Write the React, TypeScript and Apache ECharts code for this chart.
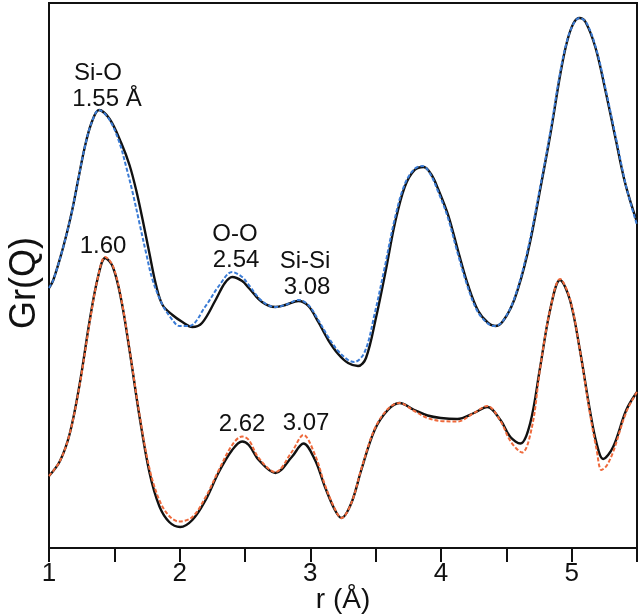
import React, { useEffect, useRef } from "react";
import * as echarts from "echarts";

// r (Å) and Gr(Q) (arbitrary units, offset curves)
const rTopFit = [1.0, 1.033, 1.109, 1.173, 1.223, 1.274, 1.325, 1.383, 1.464, 1.553, 1.616, 1.667, 1.717, 1.768, 1.819, 1.869, 1.945, 2.021, 2.097, 2.171, 2.275, 2.346, 2.402, 2.478, 2.529, 2.63, 2.732, 2.808, 2.909, 2.985, 3.061, 3.137, 3.213, 3.289, 3.365, 3.426, 3.502, 3.578, 3.646, 3.722, 3.798, 3.867, 3.928, 3.981, 4.057, 4.133, 4.209, 4.285, 4.361, 4.414, 4.475, 4.563, 4.665, 4.764, 4.84, 4.916, 4.966, 5.015, 5.059, 5.106, 5.183, 5.259, 5.335, 5.411, 5.5];
const gTopFit = [2.6, 2.68, 3.01, 3.35, 3.68, 4.01, 4.25, 4.38, 4.29, 4.05, 3.83, 3.58, 3.28, 2.95, 2.63, 2.43, 2.33, 2.26, 2.21, 2.25, 2.48, 2.65, 2.71, 2.67, 2.6, 2.46, 2.41, 2.43, 2.47, 2.42, 2.26, 2.08, 1.94, 1.85, 1.82, 1.9, 2.3, 2.78, 3.24, 3.61, 3.78, 3.81, 3.73, 3.58, 3.32, 2.96, 2.62, 2.37, 2.25, 2.22, 2.27, 2.49, 2.96, 3.62, 4.16, 4.76, 5.07, 5.25, 5.3, 5.26, 5.0, 4.57, 4.1, 3.64, 3.26];

const rTopBlue = [1.0, 1.033, 1.109, 1.173, 1.223, 1.274, 1.325, 1.383, 1.464, 1.54, 1.591, 1.641, 1.692, 1.743, 1.793, 1.869, 1.945, 1.996, 2.072, 2.199, 2.3, 2.402, 2.478, 2.529, 2.63, 2.732, 2.808, 2.909, 2.985, 3.061, 3.137, 3.213, 3.289, 3.335, 3.416, 3.492, 3.568, 3.644, 3.72, 3.796, 3.859, 3.922, 3.973, 4.049, 4.125, 4.202, 4.278, 4.354, 4.407, 4.468, 4.557, 4.658, 4.759, 4.835, 4.911, 4.962, 5.013, 5.059, 5.114, 5.19, 5.266, 5.342, 5.418, 5.5];
const gTopBlue = [2.6, 2.68, 3.01, 3.35, 3.68, 4.01, 4.25, 4.38, 4.28, 4.05, 3.81, 3.55, 3.25, 2.95, 2.68, 2.43, 2.28, 2.22, 2.22, 2.42, 2.62, 2.76, 2.71, 2.63, 2.47, 2.41, 2.43, 2.48, 2.43, 2.28, 2.11, 1.97, 1.88, 1.86, 1.96, 2.34, 2.8, 3.28, 3.63, 3.79, 3.82, 3.73, 3.58, 3.32, 2.96, 2.62, 2.37, 2.25, 2.22, 2.26, 2.48, 2.95, 3.61, 4.15, 4.75, 5.06, 5.24, 5.3, 5.25, 4.98, 4.55, 4.08, 3.61, 3.23];

const rBotFit = [1.0, 1.084, 1.16, 1.236, 1.312, 1.375, 1.43, 1.489, 1.553, 1.616, 1.692, 1.768, 1.844, 1.92, 2.004, 2.097, 2.199, 2.3, 2.402, 2.478, 2.529, 2.605, 2.732, 2.858, 2.947, 3.036, 3.112, 3.188, 3.238, 3.314, 3.39, 3.492, 3.593, 3.682, 3.796, 3.897, 3.998, 4.125, 4.252, 4.354, 4.455, 4.531, 4.607, 4.683, 4.759, 4.835, 4.911, 4.987, 5.063, 5.139, 5.19, 5.241, 5.317, 5.418, 5.5];
const gBotFit = [0.72, 0.87, 1.15, 1.65, 2.28, 2.71, 2.9, 2.81, 2.48, 1.98, 1.32, 0.76, 0.42, 0.26, 0.21, 0.28, 0.48, 0.76, 0.98, 1.065, 1.03, 0.88, 0.75, 0.91, 1.045, 0.88, 0.61, 0.38, 0.3, 0.45, 0.78, 1.18, 1.38, 1.45, 1.38, 1.325, 1.3, 1.29, 1.35, 1.41, 1.28, 1.11, 1.045, 1.25, 1.81, 2.38, 2.68, 2.48, 1.98, 1.38, 1.05, 0.89, 1.01, 1.38, 1.56];

const rBotOrange = [1.0, 1.084, 1.16, 1.236, 1.312, 1.375, 1.43, 1.489, 1.553, 1.616, 1.692, 1.768, 1.844, 1.92, 1.996, 2.097, 2.199, 2.3, 2.402, 2.478, 2.529, 2.605, 2.732, 2.858, 2.947, 3.036, 3.112, 3.188, 3.238, 3.314, 3.39, 3.492, 3.593, 3.682, 3.796, 3.897, 3.998, 4.125, 4.252, 4.354, 4.455, 4.531, 4.62, 4.696, 4.759, 4.835, 4.911, 4.987, 5.063, 5.139, 5.19, 5.228, 5.266, 5.317, 5.418, 5.5];
const gBotOrange = [0.72, 0.87, 1.15, 1.64, 2.26, 2.71, 2.91, 2.82, 2.49, 1.99, 1.34, 0.8, 0.48, 0.32, 0.265, 0.31, 0.51, 0.78, 1.03, 1.115, 1.08, 0.9, 0.76, 0.96, 1.13, 0.93, 0.63, 0.39, 0.3, 0.45, 0.79, 1.19, 1.39, 1.45, 1.37, 1.3, 1.27, 1.265, 1.35, 1.42, 1.27, 1.07, 0.955, 1.21, 1.8, 2.38, 2.69, 2.49, 1.98, 1.35, 0.99, 0.78, 0.82, 0.96, 1.36, 1.56];

const xTicks = [1, 2, 3, 4, 5];

const annotations = [
  { text: "Si-O", x: 98, y: 71 },
  { text: "1.55 Å", x: 107, y: 97 },
  { text: "1.60", x: 103, y: 244 },
  { text: "O-O", x: 235, y: 232 },
  { text: "2.54", x: 236, y: 258 },
  { text: "Si-Si", x: 305, y: 259 },
  { text: "3.08", x: 307, y: 285 },
  { text: "2.62", x: 242, y: 422 },
  { text: "3.07", x: 306, y: 421 },
];

const FONT = '"Liberation Sans", Arial, Helvetica, sans-serif';

function zip(a: number[], b: number[]) {
  return a.map((v, i) => [v, b[i]]);
}

export default function App() {
  const ref = useRef<HTMLDivElement>(null);
  useEffect(() => {
    if (!ref.current) return;
    const chart = echarts.init(ref.current, undefined, { renderer: "svg" });
    const black = "#111111";
    const solid = (data: number[][]) => ({
      type: "line",
      data,
      showSymbol: false,
      smooth: 0.35,
      lineStyle: { color: black, width: 2.4 },
      z: 2,
    });
    const dashed = (data: number[][], color: string) => ({
      type: "line",
      data,
      showSymbol: false,
      smooth: 0.35,
      lineStyle: { color, width: 2, type: [4, 2] },
      z: 3,
    });
    chart.setOption({
      animation: false,
      grid: {
        left: 49,
        right: 2,
        top: 3,
        bottom: 66,
        show: true,
        borderColor: black,
        borderWidth: 2,
      },
      xAxis: {
        type: "value",
        min: 1,
        max: 5.5,
        interval: 0.5,
        axisLine: { lineStyle: { color: black, width: 2 } },
        axisTick: { show: true, inside: false, length: 14, lineStyle: { color: black, width: 2 } },
        axisLabel: {
          formatter: (v: number) => (xTicks.includes(v) ? String(v) : ""),
          fontSize: 26,
          color: black,
          fontFamily: FONT,
          margin: 11,
        },
        splitLine: { show: false },
      },
      yAxis: {
        type: "value",
        min: 0,
        max: 5.45,
        axisLine: { show: true, lineStyle: { color: black, width: 2 } },
        axisTick: { show: false },
        axisLabel: { show: false },
        splitLine: { show: false },
      },
      graphic: [
        {
          type: "text",
          x: 22,
          y: 283,
          rotation: Math.PI / 2,
          style: { text: "Gr(Q)", font: `36px ${FONT}`, fill: black, align: "center", verticalAlign: "middle" },
        },
        {
          type: "text",
          x: 343,
          y: 598,
          style: { text: "r (Å)", font: `28px ${FONT}`, fill: black, align: "center", verticalAlign: "middle" },
        },
        ...annotations.map((a) => ({
          type: "text",
          x: a.x,
          y: a.y,
          style: { text: a.text, font: `24px ${FONT}`, fill: black, align: "center", verticalAlign: "middle" },
        })),
      ],
      series: [
        solid(zip(rTopFit, gTopFit)),
        dashed(zip(rTopBlue, gTopBlue), "#3a7bd5"),
        solid(zip(rBotFit, gBotFit)),
        dashed(zip(rBotOrange, gBotOrange), "#ee6a3c"),
      ],
    });
    return () => chart.dispose();
  }, []);
  return <div ref={ref} style={{ position: "fixed", left: 0, top: 0, width: 640, height: 614 }} />;
}
